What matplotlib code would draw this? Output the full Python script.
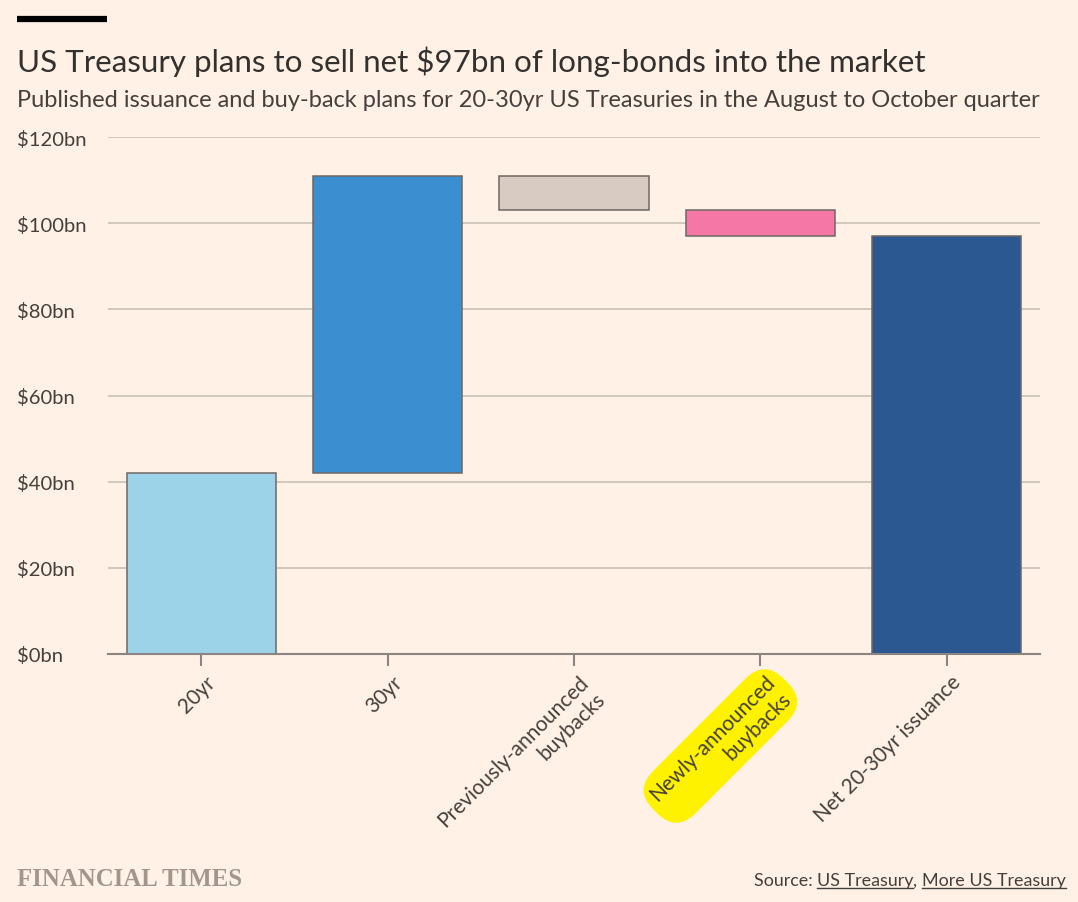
import matplotlib
matplotlib.use("Agg")
import matplotlib.pyplot as plt
from matplotlib.lines import Line2D
from matplotlib.transforms import ScaledTranslation

plt.rcParams["text.parse_math"] = False
plt.rcParams["font.family"] = ["Lato", "DejaVu Sans"]

# ---- data ----
categories = ["20yr", "30yr", "Previously-announced\nbuybacks",
              "Newly-announced\nbuybacks", "Net 20-30yr issuance"]
changes = [42, 69, -8, -6]          # $bn steps
net_total = 97                       # $bn
bar_colors = ["#9dd3e8", "#3b8fd0", "#d8ccc2", "#f577a6", "#2b5891"]
ytick_values = [0, 20, 40, 60, 80, 100, 120]
ytick_labels = ["$0bn", "$20bn", "$40bn", "$60bn", "$80bn", "$100bn", "$120bn"]

BG = "#fff1e5"
TXT = "#33302e"
SUB = "#45403c"

W, H = 1078, 903
fig = plt.figure(figsize=(W / 100, H / 100), dpi=100, facecolor=BG)
ax = fig.add_axes([108 / W, 1 - 655 / H, (1040 - 108) / W, (655 - 138) / H])
ax.set_facecolor(BG)

# waterfall bars
bottoms, heights = [], []
level = 0
for c in changes:
    bottoms.append(min(level, level + c))
    heights.append(abs(c))
    level += c
bottoms.append(0)
heights.append(net_total)

ax.bar(range(len(categories)), heights, bottom=bottoms, width=0.8,
       color=bar_colors, edgecolor="#6e6762", linewidth=1.1, zorder=3)

ax.set_xlim(-0.5, len(categories) - 0.5)
ax.set_ylim(0, 120)
ax.set_yticks(ytick_values)
ax.set_yticklabels(ytick_labels)
ax.grid(axis="y", color="#cec5b9", linewidth=1.3, zorder=0)
ax.tick_params(axis="y", length=0, pad=65.5, labelsize=14.6, labelcolor=SUB)
for lab in ax.get_yticklabels():
    lab.set_horizontalalignment("left")

for s in ["top", "right", "left"]:
    ax.spines[s].set_visible(False)
ax.spines["bottom"].set_color("#8c8480")
ax.spines["bottom"].set_linewidth(1.5)
ax.spines["bottom"].set_zorder(4)

ax.set_xticks(range(len(categories)))
ax.set_xticklabels(categories)
ax.tick_params(axis="x", length=8.5, width=1.5, color="#8c8480",
               labelsize=15, labelcolor=SUB, pad=4)
offset = ScaledTranslation(3 / 72, 0, fig.dpi_scale_trans)
for i, lab in enumerate(ax.get_xticklabels()):
    lab.set_rotation(45)
    lab.set_rotation_mode("anchor")
    lab.set_horizontalalignment("right")
    lab.set_verticalalignment("top")
    lab.set_multialignment("right")
    lab.set_transform(lab.get_transform() + offset)
    if i == 3:
        lab.set_bbox(dict(boxstyle="round,pad=0.4,rounding_size=1.3",
                          fc="#fff200", ec="none"))

# header
fig.add_artist(Line2D([17 / W, 107 / W], [1 - 20 / H, 1 - 20 / H],
                      color="black", linewidth=4.5, solid_capstyle="butt"))
fig.text(17 / W, 1 - 72 / H, "US Treasury plans to sell net $97bn of long-bonds into the market",
         fontsize=22.6, color=TXT, va="baseline", ha="left")
fig.text(17 / W, 1 - 107 / H,
         "Published issuance and buy-back plans for 20-30yr US Treasuries in the August to October quarter",
         fontsize=17.0, color=SUB, va="baseline", ha="left")

# footer
fig.text(17 / W, 1 - 886 / H, "FINANCIAL TIMES", family=["Liberation Serif"],
         fontsize=17.8, fontweight="bold", color="#a0968d", va="baseline", ha="left")

fig.canvas.draw()
renderer = fig.canvas.get_renderer()
pieces = ["Source: ", "US Treasury", ", ", "More US Treasury"]
underline = [False, True, False, True]
x_right = 1066
base_y = 886
for txt, ul in reversed(list(zip(pieces, underline))):
    t = fig.text(x_right / W, 1 - base_y / H, txt, fontsize=12.9, color=SUB,
                 ha="right", va="baseline")
    bb = t.get_window_extent(renderer)
    if ul:
        fig.add_artist(Line2D([bb.x0 / W, bb.x1 / W],
                              [(H - base_y - 3) / H, (H - base_y - 3) / H],
                              color=SUB, linewidth=1.0))
    x_right = bb.x0

fig.savefig("out.png", dpi=100, facecolor=BG)
